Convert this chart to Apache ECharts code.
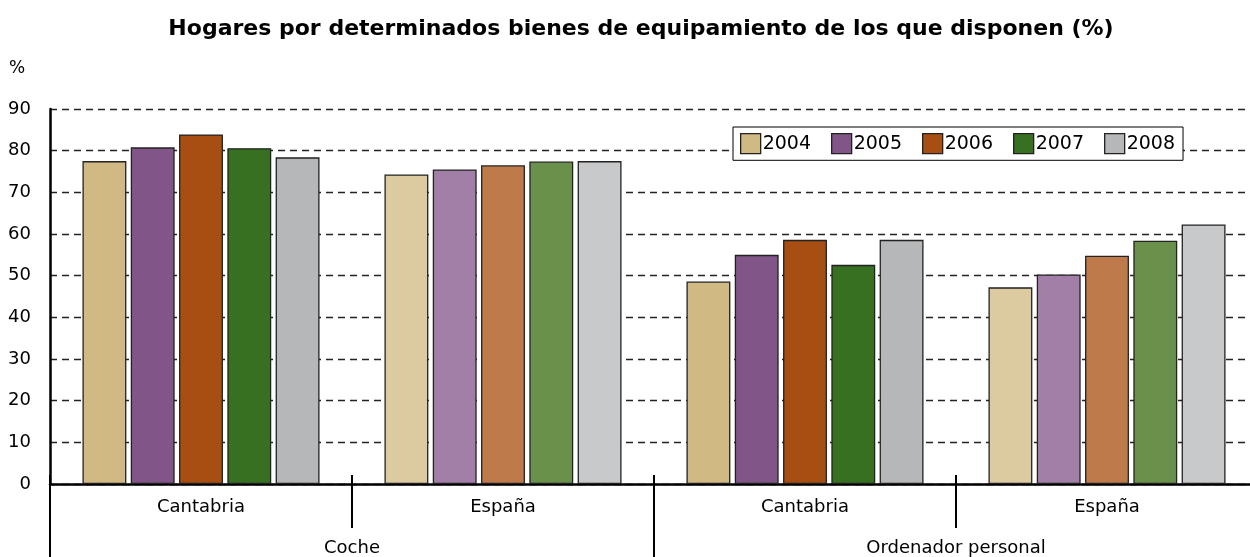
<!DOCTYPE html>
<html>
<head>
<meta charset="utf-8">
<title>Hogares por bienes de equipamiento</title>
<script src="https://cdn.jsdelivr.net/npm/echarts@6/dist/echarts.min.js"></script>
<style>
  html, body { margin: 0; padding: 0; background: #fff; overflow: hidden; }
  /* el eje sigue un poco más allá del borde derecho, como en el original */
  #chart { width: 1258px; height: 557px; }
</style>
</head>
<body>
<div id="chart"></div>
<script>
// datos
var regiones = ['Cantabria', 'España', 'Cantabria', 'España'];
var bienes = ['Coche', 'Ordenador personal'];
var anios = ['2004', '2005', '2006', '2007', '2008'];
var v2004 = [77.5, 74.3, 48.6, 47.2];
var v2005 = [80.8, 75.5, 55.0, 50.3];
var v2006 = [83.9, 76.5, 58.6, 54.8];
var v2007 = [80.6, 77.4, 52.6, 58.4];
var v2008 = [78.4, 77.5, 58.6, 62.3];
var yTicks = [0, 10, 20, 30, 40, 50, 60, 70, 80, 90];

// colores: oscuros para Cantabria, claros para España
var coloresCantabria = ['#D1B983', '#815587', '#A74F12', '#387022', '#B6B7B9'];
var coloresEspana = ['#DCCBA0', '#A27FA7', '#BF7A4C', '#6A914C', '#C8C9CB'];

var valores = [v2004, v2005, v2006, v2007, v2008];
var fuente = '"DejaVu Sans", sans-serif';

var series = anios.map(function (anio, s) {
  return {
    name: anio,
    type: 'bar',
    xAxisIndex: 0,
    barCategoryGap: '21.5%',
    barGap: '10%',
    itemStyle: { color: coloresCantabria[s], borderColor: '#222', borderWidth: 1.3 },
    data: valores[s].map(function (v, i) {
      var espana = regiones[i] === 'España';
      return {
        value: v,
        itemStyle: { color: espana ? coloresEspana[s] : coloresCantabria[s] }
      };
    })
  };
});

var claves = regiones.map(function (r, i) { return String(i); });

var myChart = echarts.init(document.getElementById('chart'));
myChart.setOption({
  animation: false,
  textStyle: { fontFamily: fuente, color: '#000' },
  title: {
    text: 'Hogares por determinados bienes de equipamiento de los que disponen (%)',
    left: 636,
    top: 13,
    textAlign: 'center',
    textStyle: { fontFamily: fuente, fontSize: 22, fontWeight: 'bold', color: '#000' }
  },
  graphic: [{
    type: 'text',
    left: 9,
    top: 60,
    style: { text: '%', fontFamily: fuente, fontSize: 17, fill: '#000' }
  }],
  legend: {
    left: 733,
    top: 127,
    padding: [6, 8, 6, 7],
    itemGap: 20,
    itemWidth: 20,
    itemHeight: 20,
    borderColor: '#000',
    borderWidth: 1,
    backgroundColor: '#fff',
    icon: 'rect',
    itemStyle: { borderColor: '#222', borderWidth: 1.3 },
    textStyle: { fontFamily: fuente, fontSize: 19, color: '#000', padding: [0, 0, 0, -3] },
    data: anios
  },
  grid: { left: 50, right: 0, top: 109, bottom: 73 },
  xAxis: [
    {
      type: 'category',
      data: claves,
      position: 'bottom',
      axisLine: { lineStyle: { color: '#000', width: 2.5 } },
      axisTick: { show: true, length: 44, lineStyle: { color: '#000', width: 2 } },
      axisLabel: {
        margin: 14,
        fontFamily: fuente,
        fontSize: 18,
        color: '#000',
        formatter: function (v) { return regiones[+v]; }
      }
    },
    {
      type: 'category',
      data: claves,
      position: 'bottom',
      axisLine: { show: false },
      axisTick: { show: true, inside: true, length: 9, lineStyle: { color: '#000', width: 2 } },
      axisLabel: { show: false }
    },
    {
      type: 'category',
      data: bienes,
      position: 'bottom',
      axisLine: { show: false },
      axisTick: { show: true, length: 80, lineStyle: { color: '#000', width: 2 } },
      axisLabel: { margin: 55, fontFamily: fuente, fontSize: 18, color: '#000' }
    }
  ],
  yAxis: {
    type: 'value',
    min: yTicks[0],
    max: yTicks[yTicks.length - 1],
    interval: 10,
    axisLine: { show: true, lineStyle: { color: '#000', width: 2.5 } },
    axisTick: { show: false },
    axisLabel: { margin: 19, fontFamily: fuente, fontSize: 18, color: '#000' },
    splitLine: { lineStyle: { color: '#222', width: 1.3, type: [7, 5] } }
  },
  series: series
});
</script>
</body>
</html>
